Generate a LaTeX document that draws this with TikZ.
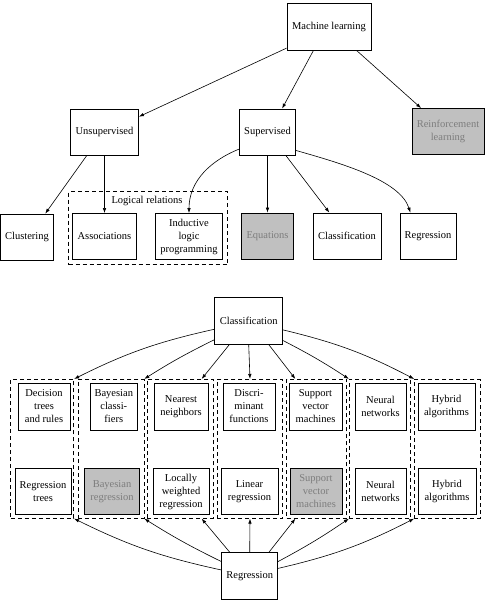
\documentclass[tikz,border=0pt]{standalone}
\usepackage{fontspec}
\setmainfont{Liberation Serif}
\usepackage{xcolor}
\usetikzlibrary{arrows.meta}
\definecolor{shadegray}{RGB}{192,192,192}
\definecolor{fadetext}{RGB}{125,125,125}

\begin{document}
\begin{tikzpicture}[x=1pt, y=-1pt, >={Latex[length=5pt,width=3.5pt]},
  every node/.style={font=\fontsize{10.5}{13}\selectfont},
  box/.style={rectangle, draw, line width=0.8pt, fill=white, align=center,
  minimum height=46pt, inner sep=1pt},
  shaded/.style={box, fill=shadegray, text=fadetext},
  group/.style={rectangle, draw, line width=0.7pt, dash pattern=on 4pt off 3pt,
  minimum height=139pt},
  link/.style={->, line width=0.6pt}]
  \useasboundingbox (0,0) rectangle (488,600);

  % machine learning tree
  \node[box, minimum width=84pt, minimum height=47pt] (ml) at (329,26.5) {Machine learning};
  \node[box, minimum width=68pt] (unsup) at (104.5,132) {Unsupervised};
  \node[box, minimum width=56pt] (sup) at (267.5,132) {Supervised};
  \node[shaded, minimum width=72pt] (reinf) at (448,131.5) {Reinforcement\\learning};
  \node[group, minimum width=159pt, minimum height=73pt] (logic) at (148,228) {};
  \node (logiclabel) at (147,201) {Logical relations};
  \node[box, minimum width=53pt] (clust) at (27,237) {Clustering};
  \node[box, minimum width=64pt] (assoc) at (104.5,236.5) {Associations};
  \node[box, minimum width=67pt] (ilp) at (189,236.5) {Inductive\\logic\\programming};
  \node[shaded, minimum width=52pt] (equ) at (267.5,236) {Equations};
  \node[box, minimum width=68pt] (clstop) at (347,236) {Classification};
  \node[box, minimum width=56pt] (regtop) at (428,236) {Regression};

  \draw[link] (ml.207) -- (unsup.24);
  \draw[link] (ml.237) -- (sup.58);
  \draw[link] (ml.319) -- (reinf.139);
  \draw[link] (unsup.233) -- (clust.52);
  \draw[link] (unsup.south) -- (assoc.north);
  \draw[link] (sup.211) .. controls (212,160) and (189,180) .. (ilp.north);
  \draw[link] (sup.south) -- (equ.north);
  \draw[link] (sup.308) -- (clstop.127);
  \draw[link] (sup.327) .. controls (340,163) and (400,180) .. (regtop.127);

  % classification and regression methods
  \node[box, minimum width=68pt, minimum height=47pt] (cls) at (248.7,320.7) {Classification};
  \node[box, minimum width=56pt, minimum height=47pt] (reg) at (249.7,576) {Regression};

  \node[group, minimum width=63pt] (g1) at (42.3,448.8) {};
  \node[group, minimum width=65.5pt] (g2) at (111.2,448.8) {};
  \node[group, minimum width=66pt] (g3) at (180.3,448.8) {};
  \node[group, minimum width=65.5pt] (g4) at (250,448.8) {};
  \node[group, minimum width=60pt] (g5) at (316.7,448.8) {};
  \node[group, minimum width=61.5pt] (g6) at (380,448.8) {};
  \node[group, minimum width=65.5pt] (g7) at (447.2,448.8) {};

  \node[box, minimum width=52pt, minimum height=47pt] (dtr) at (44,406.5) {Decision\\trees\\and rules};
  \node[box, minimum width=47pt, minimum height=47pt] (bcl) at (113.8,406.5) {Bayesian\\classi-\\fiers};
  \node[box, minimum width=54pt, minimum height=47pt] (nn) at (181,406.5) {Nearest\\neighbors};
  \node[box, minimum width=52pt, minimum height=47pt] (dfun) at (249,406.5) {Discri-\\minant\\functions};
  \node[box, minimum width=53pt, minimum height=47pt] (svmc) at (315.5,406.5) {Support\\vector\\machines};
  \node[box, minimum width=51pt, minimum height=47pt] (nnetc) at (380.5,406.5) {Neural\\networks};
  \node[box, minimum width=57pt, minimum height=47pt] (hybc) at (446.5,406.5) {Hybrid\\algorithms};

  \node[box, minimum width=56pt] (rtree) at (43,491.5) {Regression\\trees};
  \node[shaded, minimum width=55pt] (breg) at (112,491.5) {Bayesian\\regression};
  \node[box, minimum width=56pt] (lwr) at (181,491.5) {Locally\\weighted\\regression};
  \node[box, minimum width=57pt] (lreg) at (249.5,491.5) {Linear\\regression};
  \node[shaded, minimum width=52pt] (svmr) at (316,491.5) {Support\\vector\\machines};
  \node[box, minimum width=51pt] (nnetr) at (380.5,491.5) {Neural\\networks};
  \node[box, minimum width=58pt] (hybr) at (447,491.5) {Hybrid\\algorithms};

  \draw[link] (cls.194) to[bend right=7] (g1.north east);
  \draw[link] (cls.209) to[bend right=3] (g2.north east);
  \draw[link] (cls.231) -- (g3.73);
  \draw[link] (cls.south) -- (g4.north);
  \draw[link] (cls.310) -- (g5.107);
  \draw[link] (cls.330) to[bend left=3] (g6.north west);
  \draw[link] (cls.345) to[bend left=7] (g7.north west);

  \draw[link] (reg.168) to[bend left=7] (g1.south east);
  \draw[link] (reg.153) to[bend left=3] (g2.south east);
  \draw[link] (reg.130) -- (g3.287);
  \draw[link] (reg.north) -- (g4.south);
  \draw[link] (reg.51) -- (g5.253);
  \draw[link] (reg.27) to[bend right=3] (g6.south west);
  \draw[link] (reg.15) to[bend right=7] (g7.south west);
\end{tikzpicture}
\end{document}
